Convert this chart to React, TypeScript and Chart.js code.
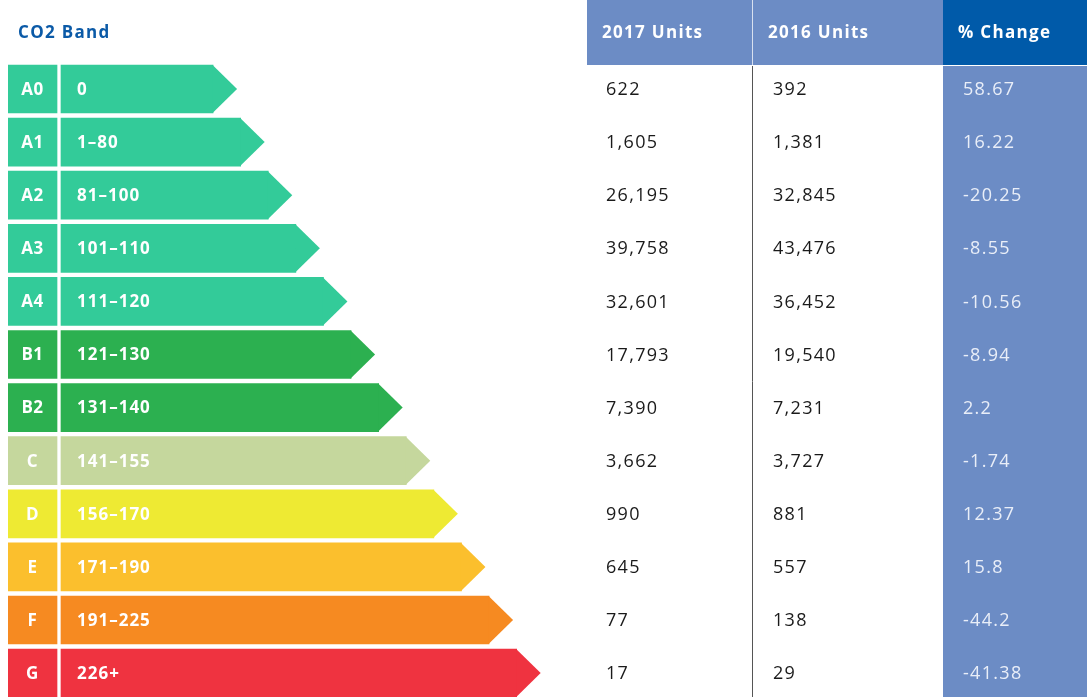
import React, { useEffect, useRef } from "react";
import { Chart, registerables } from "chart.js";

Chart.register(...registerables);

const bandCodes = ["A0", "A1", "A2", "A3", "A4", "B1", "B2", "C", "D", "E", "F", "G"];
const bandRanges = ["0", "1–80", "81–100", "101–110", "111–120", "121–130", "131–140", "141–155", "156–170", "171–190", "191–225", "226+"];
const bandRank = [1, 2, 3, 4, 5, 6, 7, 8, 9, 10, 11, 12];
const bandColors = ["#33cb99", "#33cb99", "#33cb99", "#33cb99", "#33cb99", "#2cb050", "#2cb050", "#c5d79d", "#eeea33", "#fbbf2d", "#f68a21", "#ef3340"];
const units2017 = [622, 1605, 26195, 39758, 32601, 17793, 7390, 3662, 990, 645, 77, 17];
const units2016 = [392, 1381, 32845, 43476, 36452, 19540, 7231, 3727, 881, 557, 138, 29];
const pctChange = [58.67, 16.22, -20.25, -8.55, -10.56, -8.94, 2.2, -1.74, 12.37, 15.8, -44.2, -41.38];
const headers = ["2017 Units", "2016 Units", "% Change"];

const RANK_OFFSET = 6.43;
const BAR_BASE = 1.92;
const TAG_END = 1.776;

const FONT = '"Open Sans", "Noto Sans", sans-serif';

const overlay = {
  id: "overlay",
  afterDatasetsDraw(chart: any) {
    const ctx = chart.ctx as CanvasRenderingContext2D;
    const yScale = chart.scales.y;
    const tagMeta = chart.getDatasetMeta(0);
    const barMeta = chart.getDatasetMeta(1);
    ctx.save();
    // Title
    ctx.fillStyle = "#0b5aa7";
    ctx.font = `700 17px ${FONT}`;
    (ctx as any).letterSpacing = "1.3px";
    ctx.textBaseline = "middle";
    ctx.textAlign = "left";
    ctx.fillText("CO2 Band", 18, 33);

    // arrow heads + texts
    barMeta.data.forEach((bar: any, i: number) => {
      const h = bar.height;
      ctx.fillStyle = bandColors[i];
      ctx.beginPath();
      ctx.moveTo(bar.x - 0.5, bar.y - h / 2);
      ctx.lineTo(bar.x + h / 2, bar.y);
      ctx.lineTo(bar.x - 0.5, bar.y + h / 2);
      ctx.closePath();
      ctx.fill();
      ctx.fillStyle = "#ffffff";
      ctx.font = `700 17px ${FONT}`;
      (ctx as any).letterSpacing = "1px";
      ctx.textAlign = "left";
      ctx.fillText(bandRanges[i], 77, bar.y + 1);
    });
    tagMeta.data.forEach((bar: any, i: number) => {
      ctx.fillStyle = "#ffffff";
      ctx.font = `700 17px ${FONT}`;
      (ctx as any).letterSpacing = "0.5px";
      ctx.textAlign = "center";
      ctx.fillText(bandCodes[i], (bar.x + bar.base) / 2, bar.y + 1);
    });

    // Table
    const colX = [587, 752, 943, 1087];
    const headerBottom = 65;
    ctx.fillStyle = "#6c8cc5";
    ctx.fillRect(colX[0], 0, colX[2] - colX[0], headerBottom);
    ctx.fillStyle = "#005aa9";
    ctx.fillRect(colX[2], 0, colX[3] - colX[2], headerBottom);
    ctx.fillStyle = "#6c8cc5";
    ctx.fillRect(colX[2], headerBottom + 1, colX[3] - colX[2], chart.height - headerBottom);
    ctx.strokeStyle = "#d8e0ef";
    ctx.lineWidth = 1;
    ctx.beginPath();
    ctx.moveTo(752.5, 0);
    ctx.lineTo(752.5, headerBottom);
    ctx.stroke();
    ctx.strokeStyle = "#555555";
    ctx.beginPath();
    ctx.moveTo(752.5, headerBottom + 1);
    ctx.lineTo(752.5, chart.height);
    ctx.stroke();

    ctx.fillStyle = "#ffffff";
    ctx.font = `700 17px ${FONT}`;
    (ctx as any).letterSpacing = "1.3px";
    ctx.textAlign = "left";
    ctx.fillText(headers[0], 602, 33);
    ctx.fillText(headers[1], 768, 33);
    ctx.fillText(headers[2], 958, 33);

    ctx.font = `500 18px ${FONT}`;
    (ctx as any).letterSpacing = "1.3px";
    units2017.forEach((v, i) => {
      const y = yScale.getPixelForValue(i) + 1;
      ctx.fillStyle = "#1a1a1a";
      ctx.fillText(v.toLocaleString("en-US"), 606, y);
      ctx.fillText(units2016[i].toLocaleString("en-US"), 773, y);
      ctx.fillStyle = "#e9eef8";
      ctx.fillText(String(pctChange[i]), 963, y);
    });
    ctx.restore();
  },
};

export default function App() {
  const ref = useRef<HTMLCanvasElement>(null);
  useEffect(() => {
    document.body.style.margin = "0";
    const canvas = ref.current!;
    const chart = new Chart(canvas, {
      type: "bar",
      data: {
        datasets: [
          {
            label: "Band",
            data: bandRank.map((_, i) => ({ x: [0, TAG_END], y: i })) as any,
            backgroundColor: bandColors,
            barThickness: 48,
            grouped: false,
          } as any,
          {
            label: "Range",
            data: bandRank.map((r, i) => ({ x: r + RANK_OFFSET, y: i })) as any,
            backgroundColor: bandColors,
            barThickness: 48,
            base: BAR_BASE,
            grouped: false,
          } as any,
        ],
      },
      options: {
        indexAxis: "y",
        animation: false,
        responsive: false,
        maintainAspectRatio: false,
        devicePixelRatio: 1,
        layout: { padding: { left: 8, right: 0, top: 0, bottom: 0 } },
        plugins: { legend: { display: false }, tooltip: { enabled: false } },
        scales: {
          x: { type: "linear", min: 0, max: 1079 / 27.6, display: false, offset: false },
          y: { type: "linear", min: -89 / 53.1, max: (697 - 89) / 53.1, reverse: true, display: false, offset: false },
        },
      } as any,
      plugins: [overlay],
    });
    return () => chart.destroy();
  }, []);
  return (
    <div style={{ width: 1087, height: 697, background: "#ffffff" }}>
      <canvas ref={ref} width={1087} height={697} style={{ display: "block" }} />
    </div>
  );
}
